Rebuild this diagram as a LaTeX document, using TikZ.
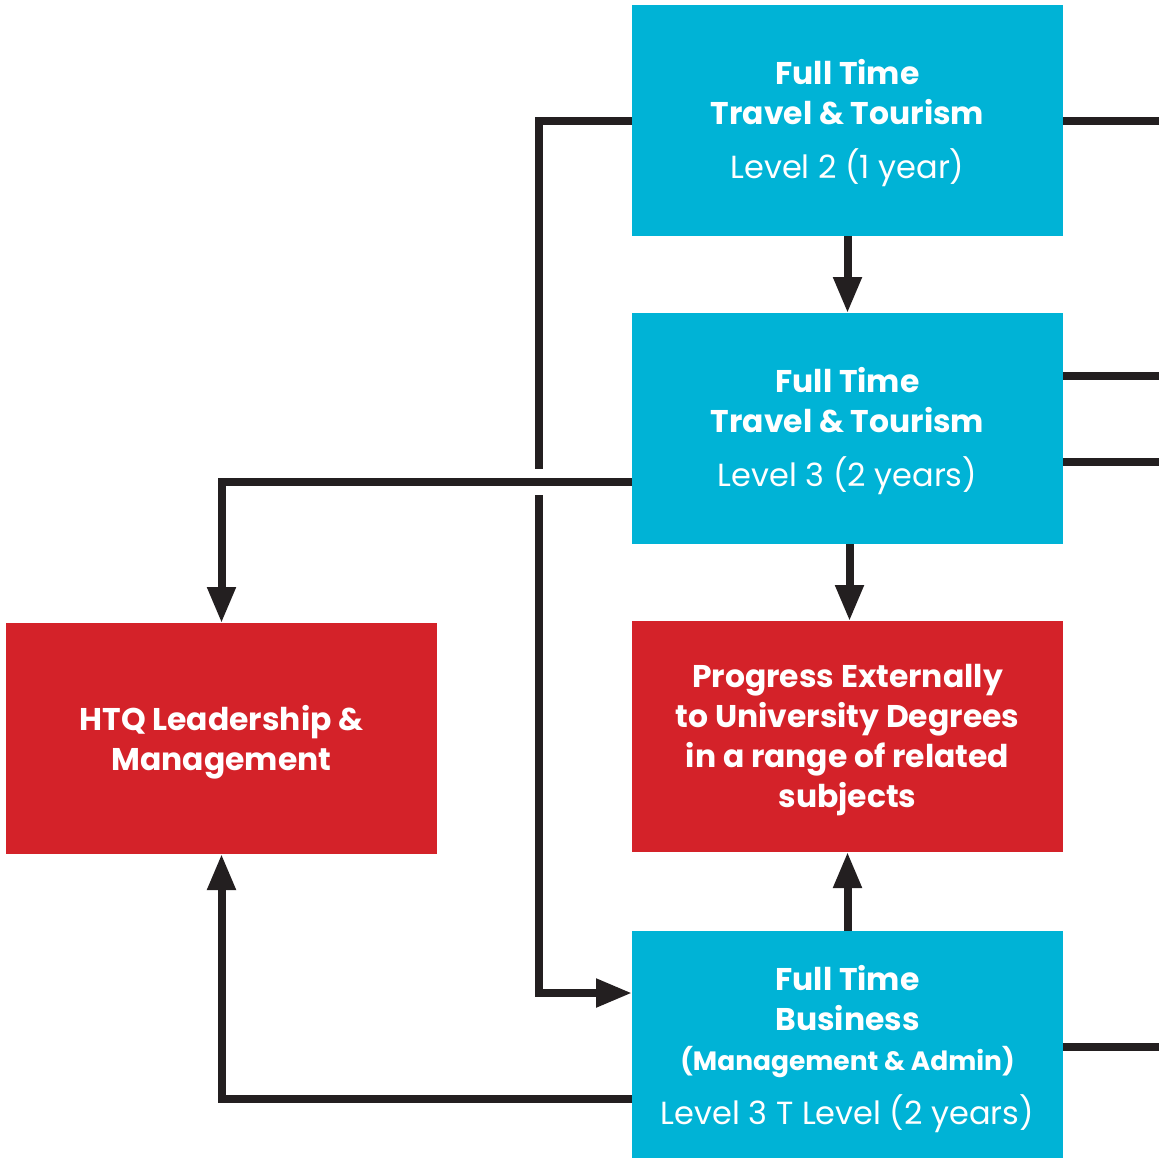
\documentclass[tikz,border=0pt]{standalone}
\usepackage{fontspec}
\setmainfont{Poppins}
\usetikzlibrary{arrows.meta}
\definecolor{cyanbox}{HTML}{00B3D6}
\definecolor{redbox}{HTML}{D42229}
\definecolor{linecol}{HTML}{231F20}
\tikzset{
  box/.style={draw=none, inner sep=0pt, outer sep=0pt, minimum width=215.5pt},
  cbox/.style={box, fill=cyanbox},
  rbox/.style={box, fill=redbox},
  boxtext/.style={inner sep=0pt, align=center, text=white,
    font=\bfseries\fontsize{15.7}{20}\selectfont},
  conn/.style={draw=linecol, line width=4pt},
  arr/.style={conn, -{Triangle[length=18pt, width=13.5pt]}},
}
\newcommand{\lvl}[1]{{\mdseries\fontsize{16}{20}\selectfont #1}}
\begin{document}
\begin{tikzpicture}[x=0.5pt,y=-0.5pt]
\useasboundingbox (0,0) rectangle (1159,1158);
\node[cbox, minimum height=115.5pt] (b1) at (847.5,120.5) {};
\node[cbox, minimum height=115.5pt] (b2) at (847.5,428.5) {};
\node[rbox, minimum height=115.5pt] (ext) at (847.5,736.5) {};
\node[rbox, minimum height=115.5pt] (htq) at (221.5,738.5) {};
\node[cbox, minimum height=113.5pt] (b3) at (847.5,1044.5) {};
\node[boxtext] (b1t) at ([yshift=-1.2pt]b1.center)
  {Full Time\\Travel \& Tourism\\[7pt]\lvl{Level 2 (1 year)}};
\node[boxtext] (b2t) at ([yshift=-1.2pt]b2.center)
  {Full Time\\Travel \& Tourism\\[7pt]\lvl{Level 3 (2 years)}};
\node[boxtext] (extt) at ([yshift=-2pt]ext.center)
  {Progress Externally\\to University Degrees\\in a range of related\\subjects};
\node[boxtext] (htqt) at ([yshift=-2pt]htq.center)
  {HTQ Leadership \&\\Management};
\node[boxtext] (b3t) at ([yshift=-2.5pt]b3.center)
  {Full Time\\Business\\{\fontsize{13.25}{17}\selectfont(Management \& Admin)}\\[7pt]\lvl{Level 3 T Level (2 years)}};
% crossing gap coordinates
\coordinate (g1) at (539,469);
\coordinate (g2) at (539,495);
% right edge stubs
\coordinate (r1) at (1159,121);
\coordinate (r2) at (1159,375.5);
\coordinate (r3) at (1159,462);
\coordinate (r4) at (1159,1047);
% vertical arrows
\draw[arr] (b1.south) -- (b2.north);
\draw[arr] ([xshift=1pt]b2.south) -- ([xshift=1pt]ext.north);
\draw[arr] (b3.north) -- (ext.south);
% left routes
\draw[conn] (b1.west |- r1) -| (g1);
\draw[arr] (g2) |- (b3.west |- 0,993);
\draw[arr] (b2.west |- 0,482) -| (htq.north);
\draw[arr] (b3.west |- 0,1099) -| (htq.south);
% right stubs
\draw[conn] (b1.east |- r1) -- (r1);
\draw[conn] (b2.east |- r2) -- (r2);
\draw[conn] (b2.east |- r3) -- (r3);
\draw[conn] (b3.east |- r4) -- (r4);
\end{tikzpicture}
\end{document}
